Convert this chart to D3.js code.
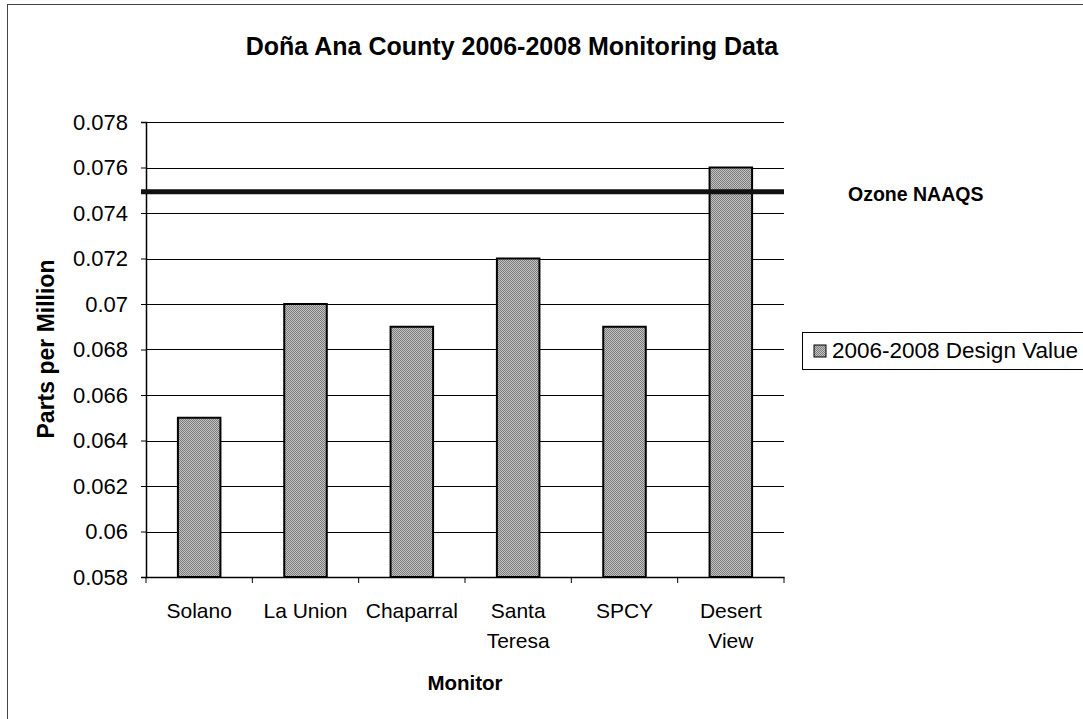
<!DOCTYPE html>
<html><head><meta charset="utf-8">
<script src="https://cdn.jsdelivr.net/npm/d3@7"></script>
<style>body{margin:0;background:#fff}svg{display:block;font-family:"Liberation Sans",Arial,sans-serif}</style>
</head><body>
<svg id="c" width="1083" height="719"></svg>
<script>
const categories = [["Solano"],["La Union"],["Chaparral"],["Santa","Teresa"],["SPCY"],["Desert","View"]];
const designValues = [0.065, 0.070, 0.069, 0.072, 0.069, 0.076];
const yTicks = [0.058,0.06,0.062,0.064,0.066,0.068,0.07,0.072,0.074,0.076,0.078];
const yTickLabels = ["0.058","0.06","0.062","0.064","0.066","0.068","0.07","0.072","0.074","0.076","0.078"];
const naaqs = 0.075;
const seriesName = "2006-2008 Design Value";

const svg = d3.select("#c");
const L=146,R=784,T=122,B=577;
const keys = categories.map(c=>c.join(" "));
const x = d3.scaleBand().domain(keys).range([L,R]).paddingInner(0.6).paddingOuter(0.3);
const xb = d3.scaleBand().domain(keys).range([L,R]);
const y = d3.scaleLinear().domain([0.058,0.078]).range([B,T]);

// outer border
svg.append("rect").attr("x",7.5).attr("y",4.5).attr("width",1090).attr("height",720).attr("fill","none").attr("stroke","#444").attr("stroke-width",1);

// gridlines
svg.append("g").selectAll("line").data(yTicks.slice(1)).join("line")
 .attr("x1",L).attr("x2",R).attr("y1",d=>Math.round(y(d))+0.5).attr("y2",d=>Math.round(y(d))+0.5)
 .attr("stroke","#000").attr("stroke-width",1);

// y axis
const ya = d3.axisLeft(y).tickValues(yTicks).tickFormat((d,i)=>yTickLabels[i]).tickSize(5).tickPadding(13);
const gy = svg.append("g").attr("transform",`translate(${L},0)`).call(ya);
gy.selectAll("text").attr("font-size",22).attr("fill","#000").attr("font-family","Liberation Sans, Arial");
gy.select(".domain").attr("stroke","#000").attr("stroke-width",1.5);
gy.selectAll(".tick line").attr("stroke","#000");

// x axis
const xa = d3.axisBottom(xb).tickSize(0).tickFormat("");
const gx = svg.append("g").attr("transform",`translate(0,${B})`).call(xa);
gx.select(".domain").attr("stroke","#000").attr("stroke-width",1.5);
svg.append("g").selectAll("line").data(d3.range(keys.length+1)).join("line")
 .attr("x1",i=>L+i*xb.step()).attr("x2",i=>L+i*xb.step()).attr("y1",B).attr("y2",B+6).attr("stroke","#000");

// pattern for bars
const defs = svg.append("defs");
const pat = defs.append("pattern").attr("id","dither").attr("width",2).attr("height",2).attr("patternUnits","userSpaceOnUse");
pat.append("rect").attr("width",2).attr("height",2).attr("fill","#c2c2c2");
pat.append("rect").attr("width",1).attr("height",1).attr("fill","#7c7c7c");
pat.append("rect").attr("x",1).attr("y",1).attr("width",1).attr("height",1).attr("fill","#7c7c7c");

// bars
svg.append("g").selectAll("rect").data(designValues).join("rect")
 .attr("x",(d,i)=>x(keys[i])).attr("width",x.bandwidth())
 .attr("y",d=>y(d)).attr("height",d=>B-y(d))
 .attr("fill","url(#dither)").attr("stroke","#000").attr("stroke-width",2);

// NAAQS line
svg.append("line").attr("x1",L-5).attr("x2",R).attr("y1",y(naaqs)+1.5).attr("y2",y(naaqs)+1.5).attr("stroke","#111").attr("stroke-width",5);
svg.append("text").attr("x",848).attr("y",201).attr("font-size",19.5).attr("font-weight","bold").text("Ozone NAAQS");

// category labels
const lab = svg.append("g").selectAll("text").data(categories).join("text")
 .attr("x",(d,i)=>xb(keys[i])+xb.bandwidth()/2).attr("y",618).attr("text-anchor","middle").attr("font-size",21);
lab.selectAll("tspan").data(d=>d).join("tspan").attr("x",function(){return this.parentNode.getAttribute("x")}).attr("dy",(d,i)=>i?30:0).text(d=>d);

// title
svg.append("text").attr("x",512).attr("y",55).attr("text-anchor","middle").attr("font-size",25).attr("font-weight","bold").text("Doña Ana County 2006-2008 Monitoring Data");
// axis titles
svg.append("text").attr("x",465).attr("y",690).attr("text-anchor","middle").attr("font-size",20.5).attr("font-weight","bold").text("Monitor");
svg.append("text").attr("transform",`translate(54,349) rotate(-90)`).attr("text-anchor","middle").attr("font-size",23).attr("font-weight","bold").text("Parts per Million");

// legend
const lg = svg.append("g");
lg.append("rect").attr("x",802.5).attr("y",332.5).attr("width",300).attr("height",37).attr("fill","#fff").attr("stroke","#000");
lg.append("rect").attr("x",814).attr("y",345).attr("width",12).attr("height",12).attr("fill","url(#dither)").attr("stroke","#000");
lg.append("text").attr("x",832).attr("y",358).attr("font-size",22.5).text(seriesName);
</script>
</body></html>
